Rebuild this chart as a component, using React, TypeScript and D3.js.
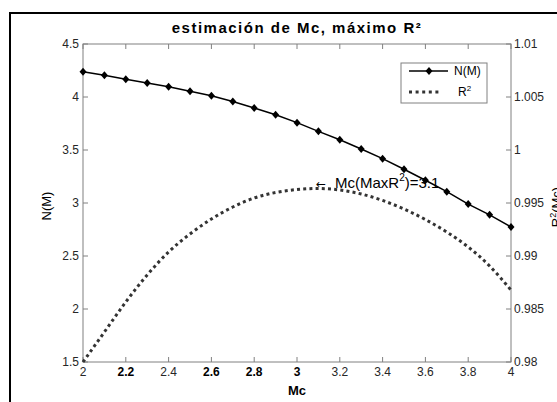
import React from "react";
import * as d3 from "d3";

// Magnitude axis (Mc) samples
const mc = [2.0, 2.1, 2.2, 2.3, 2.4, 2.5, 2.6, 2.7, 2.8, 2.9, 3.0, 3.1, 3.2, 3.3, 3.4, 3.5, 3.6, 3.7, 3.8, 3.9, 4.0];
// log10 cumulative count N(M) at each Mc
const nM = [4.239, 4.205, 4.167, 4.132, 4.097, 4.054, 4.012, 3.957, 3.897, 3.833, 3.758, 3.676, 3.597, 3.51, 3.418, 3.318, 3.215, 3.107, 2.99, 2.888, 2.774];
// goodness of fit R² at each Mc
const r2 = [0.98, 0.98283, 0.98566, 0.98821, 0.99038, 0.99208, 0.99349, 0.99462, 0.99547, 0.99599, 0.99627, 0.99637, 0.99623, 0.99585, 0.99524, 0.99443, 0.99344, 0.99226, 0.99085, 0.98906, 0.98679];

const xTicks = [2, 2.2, 2.4, 2.6, 2.8, 3, 3.2, 3.4, 3.6, 3.8, 4];
const boldXTicks = [2.2, 2.6, 2.8, 3];
const yLeftTicks = [1.5, 2, 2.5, 3, 3.5, 4, 4.5];
const yRightTicks = [0.98, 0.985, 0.99, 0.995, 1, 1.005, 1.01];

const W = 557;
const H = 402;
const L = 83;
const R = 511;
const T = 44;
const B = 362;
const FONT = "Liberation Sans, Arial, sans-serif";
const AXIS = "#808080";
const TEXT = "#262626";

export default function App() {
  const x = d3.scaleLinear().domain([2, 4]).range([L, R]);
  const yL = d3.scaleLinear().domain([1.5, 4.5]).range([B, T]);
  const yR = d3.scaleLinear().domain([0.98, 1.01]).range([B, T]);

  const nLine = d3
    .line<number>()
    .x((_, i) => x(mc[i]))
    .y((d) => yL(d))(nM) as string;

  const rLine = d3
    .line<number>()
    .x((_, i) => x(mc[i]))
    .y((d) => yR(d))
    .curve(d3.curveNatural)(r2) as string;

  const diamond = (cx: number, cy: number, key: React.Key) => (
    <path key={key} d={`M${cx},${cy - 4}L${cx + 3.5},${cy}L${cx},${cy + 4}L${cx - 3.5},${cy}Z`} fill="#000" />
  );

  const fmt = (v: number) => String(v);

  return (
    <svg
      width={W}
      height={H}
      style={{ position: "absolute", left: 0, top: 0, background: "#fff" }}
      fontFamily={FONT}
    >
      <rect x={0} y={0} width={W} height={H} fill="#fff" />
      {/* outer figure frame */}
      <rect x={10} y={13} width={W + 20} height={H + 20} fill="none" stroke="#000" strokeWidth={2} />

      {/* axes box */}
      <rect x={L} y={T} width={R - L} height={B - T} fill="none" stroke={AXIS} strokeWidth={1} />

      {/* x ticks, bottom and top */}
      {xTicks.map((t) => (
        <g key={`xt${t}`}>
          <line x1={x(t)} x2={x(t)} y1={B} y2={B - 5} stroke={AXIS} />
          <line x1={x(t)} x2={x(t)} y1={T} y2={T + 5} stroke={AXIS} />
          <text
            x={x(t)}
            y={376}
            textAnchor="middle"
            fontSize={12}
            fill={boldXTicks.includes(t) ? "#000" : TEXT}
            fontWeight={boldXTicks.includes(t) ? "bold" : "normal"}
          >
            {fmt(t)}
          </text>
        </g>
      ))}

      {/* left y ticks */}
      {yLeftTicks.map((t) => (
        <g key={`yl${t}`}>
          <line x1={L} x2={L + 5} y1={yL(t)} y2={yL(t)} stroke={AXIS} />
          <text x={L - 4} y={yL(t) + 4} textAnchor="end" fontSize={12} fill={TEXT}>
            {fmt(t)}
          </text>
        </g>
      ))}

      {/* right y ticks */}
      {yRightTicks.map((t) => (
        <g key={`yr${t}`}>
          <line x1={R} x2={R - 5} y1={yR(t)} y2={yR(t)} stroke={AXIS} />
          <text x={R + 3} y={yR(t) + 4} textAnchor="start" fontSize={12} fill={TEXT}>
            {fmt(t)}
          </text>
        </g>
      ))}

      {/* R² curve */}
      <path d={rLine} fill="none" stroke="#333" strokeWidth={3} strokeDasharray="3 3.2" />

      {/* N(M) curve with markers */}
      <path d={nLine} fill="none" stroke="#000" strokeWidth={1.5} />
      {nM.map((v, i) => diamond(x(mc[i]), yL(v), `m${i}`))}

      {/* annotation at the R² maximum */}
      <text x={316} y={188} fontSize={15} fill="#000">
        <tspan fontFamily="DejaVu Sans" fontSize={12}>{"\u2190"}</tspan>
        <tspan x={335}>{"Mc(MaxR"}</tspan>
        <tspan fontSize={10} dy={-7}>2</tspan>
        <tspan dy={7}>{")=3.1"}</tspan>
      </text>

      {/* legend */}
      <rect x={401} y={63} width={86} height={40} fill="#fff" stroke={AXIS} />
      <line x1={409} x2={448} y1={71} y2={71} stroke="#000" strokeWidth={1.5} />
      {diamond(429, 71, "leg")}
      <text x={454} y={75} fontSize={12} fill="#000">N(M)</text>
      <line x1={409} x2={442} y1={92} y2={92} stroke="#333" strokeWidth={3} strokeDasharray="3 3.6" />
      <text x={458} y={96} fontSize={12} fill="#000">
        R<tspan fontSize={8} dy={-5}>2</tspan>
      </text>

      {/* titles */}
      <text
        x={(L + R) / 2}
        y={33}
        textAnchor="middle"
        fontSize={15}
        fontWeight="bold"
        letterSpacing={1.5}
        fill="#000"
      >
        estimación de Mc, máximo R²
      </text>
      <text x={297} y={395} textAnchor="middle" fontSize={13} fontWeight="bold" fill="#000">
        Mc
      </text>
      <text transform="translate(51,206) rotate(-90)" textAnchor="middle" fontSize={13} fill="#000">
        N(M)
      </text>
      <text transform="translate(561,207) rotate(-90)" textAnchor="middle" fontSize={13} fill="#000">
        R<tspan fontSize={9} dy={-5}>2</tspan>
        <tspan dy={5}>(Mc)</tspan>
      </text>
    </svg>
  );
}
